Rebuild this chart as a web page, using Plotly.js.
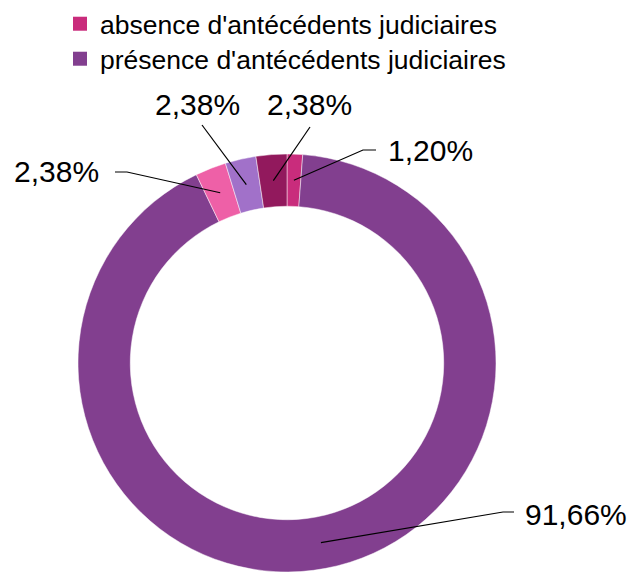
<!DOCTYPE html>
<html>
<head>
<meta charset="utf-8">
<script src="https://cdn.plot.ly/plotly-3.0.1.min.js"></script>
<style>html,body{margin:0;padding:0;background:#fff;}#chart{width:636px;height:572px;}</style>
</head>
<body>
<div id="chart"></div>
<script>
// ---- data ----
var sliceValues = [1.20, 91.66, 2.38, 2.38, 2.38];
var sliceLabels = ["absence (1)", "présence", "absence (2)", "absence (3)", "absence (4)"];
var sliceTexts = ["1,20%", "91,66%", "2,38%", "2,38%", "2,38%"];
var sliceColors = ["#C92C7C", "#823F8F", "#EE60A7", "#A171C9", "#92195D"];
var legendNames = ["absence d'antécédents judiciaires", "présence d'antécédents judiciaires"];
var legendColors = ["#C92C7C", "#823F8F"];

// ---- layout constants (pixels) ----
var W = 636, H = 572;
var CX = 287, CY = 363, R = 209, HOLE = 0.75;
// label centre and leader start (with optional elbow) per slice
var labelPos = [
  {x: 430, y: 151, pts: [[376,150],[363,150]]},
  {x: 576, y: 514, pts: [[514,512],[503,512]]},
  {x: 57,  y: 172, pts: [[115,172],[127,172]]},
  {x: 197, y: 104, pts: [[202,125]]},
  {x: 309, y: 104, pts: [[310,127]]}
];
var legendTops = [0, 35];

function px(x){ return x / W; }
function py(y){ return 1 - y / H; }

var traces = [{
  type: "pie",
  values: sliceValues,
  labels: sliceLabels,
  sort: false,
  direction: "clockwise",
  rotation: 0,
  hole: HOLE,
  textinfo: "none",
  hoverinfo: "none",
  showlegend: false,
  marker: {colors: sliceColors, line: {color: "rgba(255,255,255,0.6)", width: 0.8}},
  domain: {x: [px(CX - R), px(CX + R)], y: [0, (2 * R) / H]}
}];
legendNames.forEach(function(n, i){
  traces.push({type: "scatter", mode: "markers", x: [null], y: [null], name: n,
    legend: i === 0 ? "legend" : "legend2",
    marker: {symbol: "square", size: 14, color: legendColors[i]}, hoverinfo: "none"});
});

// leader lines + labels computed from slice angles
var shapes = [], annotations = [];
var total = sliceValues.reduce(function(a,b){return a+b;}, 0);
var cum = 0;
var rMid = R * (1 + HOLE) / 2;
sliceValues.forEach(function(v, i){
  var theta = 2 * Math.PI * (cum + v / 2) / total;
  cum += v;
  var tx = CX + rMid * Math.sin(theta), ty = CY - rMid * Math.cos(theta);
  var lp = labelPos[i];
  var d = "M " + px(lp.pts[0][0]) + "," + py(lp.pts[0][1]);
  for (var k = 1; k < lp.pts.length; k++) d += " L " + px(lp.pts[k][0]) + "," + py(lp.pts[k][1]);
  d += " L " + px(tx) + "," + py(ty);
  shapes.push({type: "path", xref: "paper", yref: "paper", path: d, line: {color: "#000", width: 1.2}});
  annotations.push({xref: "paper", yref: "paper", x: px(lp.x), y: py(lp.y), xanchor: "center", yanchor: "middle",
    text: sliceTexts[i], showarrow: false, font: {size: 30, color: "#000", family: "Liberation Sans, Arial, Helvetica, sans-serif"}});
});

function legendBox(top){
  return {x: px(60), y: py(top), xanchor: "left", yanchor: "top", bgcolor: "rgba(0,0,0,0)",
    font: {size: 26.5, color: "#000", family: "Liberation Sans, Arial, Helvetica, sans-serif"}};
}

var layout = {
  width: W, height: H,
  margin: {l: 0, r: 0, t: 0, b: 0},
  paper_bgcolor: "#fff", plot_bgcolor: "#fff",
  xaxis: {visible: false}, yaxis: {visible: false},
  showlegend: true,
  legend: legendBox(legendTops[0]),
  legend2: legendBox(legendTops[1]),
  shapes: shapes,
  annotations: annotations
};
Plotly.newPlot("chart", traces, layout, {staticPlot: true, displayModeBar: false});
</script>
</body>
</html>
